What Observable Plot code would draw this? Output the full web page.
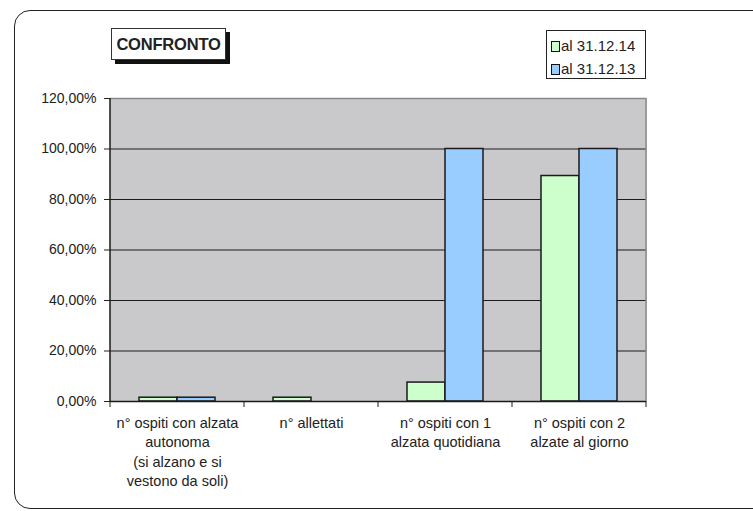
<!DOCTYPE html>
<html>
<head>
<meta charset="utf-8">
<script src="https://cdn.jsdelivr.net/npm/d3@7"></script>
<script src="https://cdn.jsdelivr.net/npm/@observablehq/plot@0.6"></script>
<style>
html, body { margin: 0; padding: 0; background: #fff; }
#wrap { position: relative; width: 753px; height: 511px; overflow: hidden; font-family: "Liberation Sans", Arial, sans-serif; color: #222; }
#border { position: absolute; left: 14px; top: 10px; width: 800px; height: 497px; border: 1.5px solid #222; border-radius: 16px; }
#chart { position: absolute; left: 0; top: 0; }
#title { position: absolute; left: 111px; top: 28px; width: 113px; height: 30px; border: 1px solid #333; background: #fff; box-shadow: 4px 4px 0 #111; font-weight: bold; font-size: 16.5px; line-height: 31px; text-align: center; color: #222; letter-spacing: -0.2px; }
#legend { position: absolute; left: 546px; top: 30px; width: 98px; height: 47px; border: 1px solid #222; background: #fff; }
.item { position: absolute; left: 4px; height: 20px; font-size: 15px; line-height: 20px; color: #222; white-space: nowrap; }
.sw { display: inline-block; width: 7px; height: 9px; border: 1px solid #111; margin-right: 1px; vertical-align: -1px; }
</style>
</head>
<body>
<div id="wrap">
  <div id="border"></div>
  <div id="chart"></div>
  <div id="title"></div>
  <div id="legend"></div>
</div>
<script>
const titleText = "CONFRONTO";
const categories = [
  "n° ospiti con alzata\nautonoma\n(si alzano e si\nvestono da soli)",
  "n° allettati",
  "n° ospiti con 1\nalzata quotidiana",
  "n° ospiti con 2\nalzate al giorno"
];
const series = ["al 31.12.14", "al 31.12.13"];
const values2014 = [0.015, 0.015, 0.075, 0.893];
const values2013 = [0.015, 0, 1.0, 1.0];
const seriesColors = ["#ccffcc", "#99ccff"];
const yTicks = [0, 0.2, 0.4, 0.6, 0.8, 1.0, 1.2];

const seriesValues = [values2014, values2013];
const data = [];
categories.forEach((c, i) => {
  series.forEach((s, j) => {
    data.push({category: c, series: s, value: seriesValues[j][i]});
  });
});

const fmt = d => (d * 100).toFixed(2).replace(".", ",") + "%";
const bg = "#c9c9cb";

const plot = Plot.plot({
  width: 753,
  height: 511,
  marginLeft: 108,
  marginRight: 106,
  marginTop: 98,
  marginBottom: 110,
  style: {fontFamily: "'Liberation Sans', Arial, sans-serif", fontSize: "14px", color: "#222", background: "transparent", overflow: "visible"},
  fx: {domain: categories, padding: 0},
  x: {domain: series, paddingInner: 0, paddingOuter: 0.753, axis: null},
  y: {domain: [0, 1.2]},
  color: {domain: series, range: seriesColors},
  marks: [
    Plot.frame({fill: bg, stroke: bg, strokeWidth: 1}),
    Plot.ruleY(yTicks.filter(d => d > 0 && d < 1.2), {stroke: "#1c1c1c", strokeWidth: 1}),
    Plot.ruleY([yTicks[yTicks.length - 1]], {stroke: "#8a8a8a", strokeWidth: 1.5}),
    Plot.barY(data.filter(d => d.value > 0), {fx: "category", x: "series", y: "value", fill: "series", stroke: "#1a1a1a", strokeWidth: 1.5}),
    Plot.ruleY([0], {stroke: "#1a1a1a", strokeWidth: 1.5}),
    Plot.axisY({ticks: yTicks, tickFormat: fmt, tickSize: 6, tickPadding: 8, label: null, fontSize: 14}),
    Plot.axisFx({anchor: "bottom", tickSize: 0, tickPadding: 13, lineHeight: 1.33, label: null, fontSize: 14.5})
  ]
});

document.getElementById("chart").appendChild(plot);

// axis line, right border and category boundary ticks from the library's scales
const fxS = plot.scale("fx");
const yS = plot.scale("y");
const svg = d3.select(plot);
const y0 = yS.apply(0), yTop = yS.apply(yTicks[yTicks.length - 1]);
const bounds = categories.map(c => fxS.apply(c));
bounds.push(fxS.apply(categories[categories.length - 1]) + fxS.bandwidth);
const g = svg.append("g");
g.append("line").attr("x1", bounds[bounds.length - 1]).attr("x2", bounds[bounds.length - 1])
  .attr("y1", yTop).attr("y2", y0).attr("stroke", "#8a8a8a").attr("stroke-width", 1.5);
g.append("line").attr("x1", bounds[0]).attr("x2", bounds[0])
  .attr("y1", yTop).attr("y2", y0).attr("stroke", "#1a1a1a").attr("stroke-width", 1.5);
g.selectAll("line.bt").data(bounds).join("line").attr("class", "bt")
  .attr("x1", d => d).attr("x2", d => d).attr("y1", y0).attr("y2", y0 + 6)
  .attr("stroke", "#1a1a1a").attr("stroke-width", 1);

// title and legend
document.getElementById("title").textContent = titleText;
const legend = d3.select("#legend");
series.forEach((s, i) => {
  const it = legend.append("div").attr("class", "item").style("top", (5 + i * 23) + "px");
  it.append("span").attr("class", "sw").style("background", seriesColors[i]);
  it.append("span").text(s);
});
</script>
</body>
</html>
